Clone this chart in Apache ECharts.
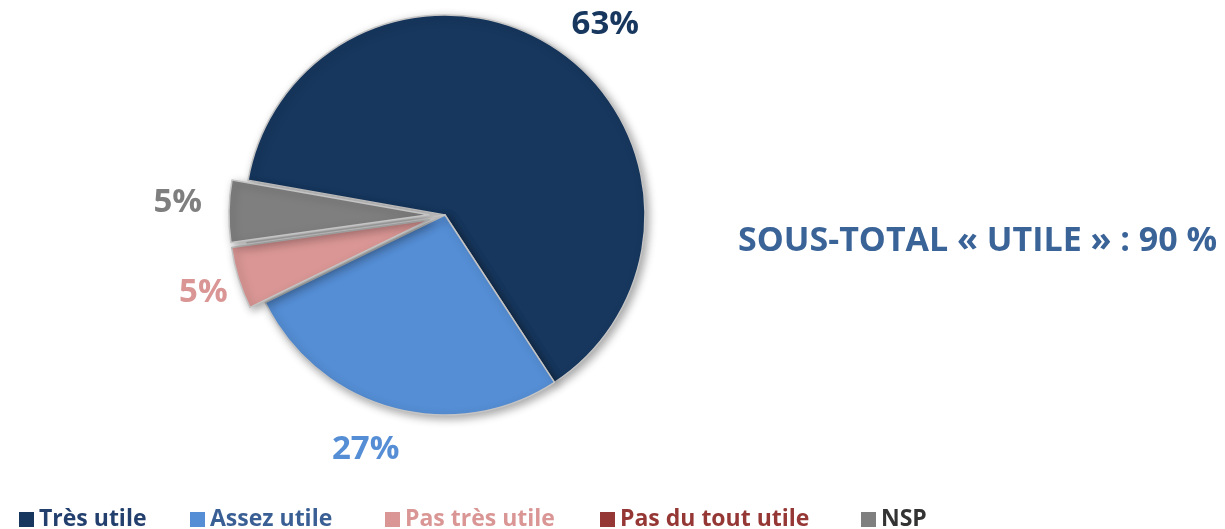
<!DOCTYPE html>
<html>
<head>
<meta charset="utf-8">
<script src="https://cdn.jsdelivr.net/npm/echarts@6/dist/echarts.min.js"></script>
<style>
  html, body { margin: 0; padding: 0; background: #fff; }
  #chart { width: 1225px; height: 529px; }
</style>
</head>
<body>
<div id="chart"></div>
<script>
const categories = ['Très utile', 'Assez utile', 'Pas très utile', 'Pas du tout utile', 'NSP']
const values = [63, 27, 5, 0, 5]
const exploded = [false, false, true, false, true]
const subtotal = 'SOUS-TOTAL « UTILE » : 90 %'

const sliceColors = ['#17375e', '#558ed5', '#d99694', '#953735', '#7f7f7f']
const legendTextColors = ['#223f6e', '#3a5f94', '#d99694', '#953735', '#333333']
const legendLeft = [14, 185, 380, 595, 856]
// nudges for the outside labels, per slice
const labelShift = [[-4, 0], [20, 15], [21, 6], [0, 0], [6, -8]]

const FONT = '"Open Sans", Lato, sans-serif'

const pieData = categories.map((name, i) => ({
  name: name,
  value: values[i],
  selected: exploded[i],
  itemStyle: { color: sliceColors[i] },
  label: { show: values[i] > 0, color: sliceColors[i] }
}))

const legends = categories.map((name, i) => ({
  left: legendLeft[i],
  top: 503,
  icon: 'rect',
  itemWidth: 15,
  itemHeight: 15,
  itemGap: 8,
  selectedMode: false,
  itemStyle: { borderWidth: 0, shadowBlur: 0, shadowOffsetX: 0, shadowOffsetY: 0 },
  textStyle: { fontFamily: FONT, fontWeight: 'bold', fontSize: 23, color: legendTextColors[i] },
  data: [name]
}))

const option = {
  backgroundColor: '#fff',
  animation: false,
  title: {
    text: subtotal,
    left: 733,
    top: 219,
    textStyle: { fontFamily: FONT, fontWeight: 'bold', fontSize: 34, color: '#3a6398' }
  },
  legend: legends,
  series: [
    {
      type: 'pie',
      center: [445, 215],
      radius: 200,
      startAngle: 170,
      clockwise: true,
      selectedMode: 'multiple',
      selectedOffset: 16,
      emphasis: { disabled: true },
      itemStyle: {
        borderColor: '#c4c4c4',
        borderWidth: 1.5,
        shadowBlur: 8,
        shadowColor: 'rgba(0,0,0,0.35)',
        shadowOffsetX: 3,
        shadowOffsetY: 3
      },
      label: {
        position: 'outside',
        formatter: '{c}%',
        fontFamily: FONT,
        fontWeight: 'bold',
        fontSize: 33
      },
      labelLine: { show: false, length: 28, length2: 0 },
      labelLayout: (params) => {
        const s = labelShift[params.dataIndex]
        return { dx: s[0], dy: s[1] }
      },
      data: pieData
    }
  ]
}

const myChart = echarts.init(document.getElementById('chart'))
myChart.setOption(option)
</script>
</body>
</html>
